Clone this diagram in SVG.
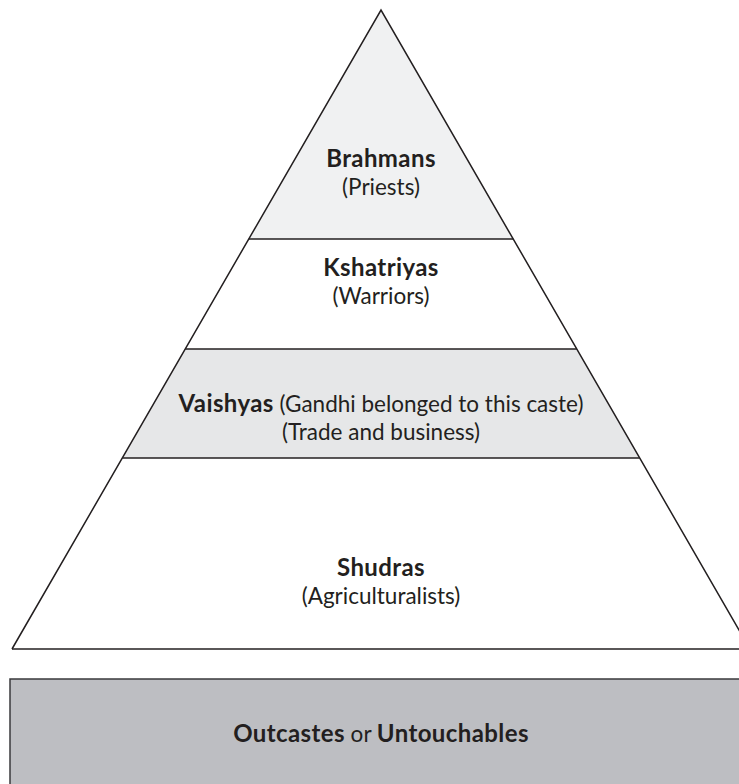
<svg xmlns="http://www.w3.org/2000/svg" width="739" height="784" viewBox="0 0 739 784">
<style>
.edge{stroke:#231f20;stroke-width:1.5;fill:none}
.t{font-family:Lato,"Open Sans","Liberation Sans",sans-serif;font-size:22.5px;fill:#231f20;text-anchor:middle}
.b{font-weight:bold;font-size:24px;letter-spacing:0.4px}
</style>
<rect width="739" height="784" fill="#ffffff"/>
<g id="brahmans">
<polygon points="381,10 248.8,239 513.2,239" fill="#f0f1f2"/>
<text class="t" x="381" y="167"><tspan class="b">Brahmans</tspan></text>
<text class="t" x="381" y="195">(Priests)</text>
</g>
<g id="kshatriyas">
<polygon points="248.8,239 513.2,239 576.7,349 185.3,349" fill="#ffffff"/>
<text class="t" x="381" y="276"><tspan class="b">Kshatriyas</tspan></text>
<text class="t" x="381" y="304">(Warriors)</text>
</g>
<g id="vaishyas">
<polygon points="185.3,349 576.7,349 639.6,458 122.4,458" fill="#e6e7e8"/>
<text class="t" x="381" y="412"><tspan class="b">Vaishyas</tspan> (Gandhi belonged to this caste)</text>
<text class="t" x="381" y="440">(Trade and business)</text>
</g>
<g id="shudras">
<polygon points="122.4,458 639.6,458 750,649 12,649" fill="#ffffff"/>
<text class="t" x="381" y="576"><tspan class="b">Shudras</tspan></text>
<text class="t" x="381" y="604">(Agriculturalists)</text>
</g>
<g id="connectors">
<polyline class="edge" points="12,649 381,10 750,649"/>
<line class="edge" x1="248.8" y1="239" x2="513.2" y2="239"/>
<line class="edge" x1="185.3" y1="349" x2="576.7" y2="349"/>
<line class="edge" x1="122.4" y1="458" x2="639.6" y2="458"/>
<line class="edge" x1="12" y1="649" x2="750" y2="649"/>
</g>
<g id="outcastes">
<rect x="10" y="679" width="740" height="120" fill="#bdbec2" stroke="#3a3a3c" stroke-width="1.5"/>
<text class="t" x="381" y="742"><tspan class="b">Outcastes</tspan> or <tspan class="b">Untouchables</tspan></text>
</g>
</svg>
